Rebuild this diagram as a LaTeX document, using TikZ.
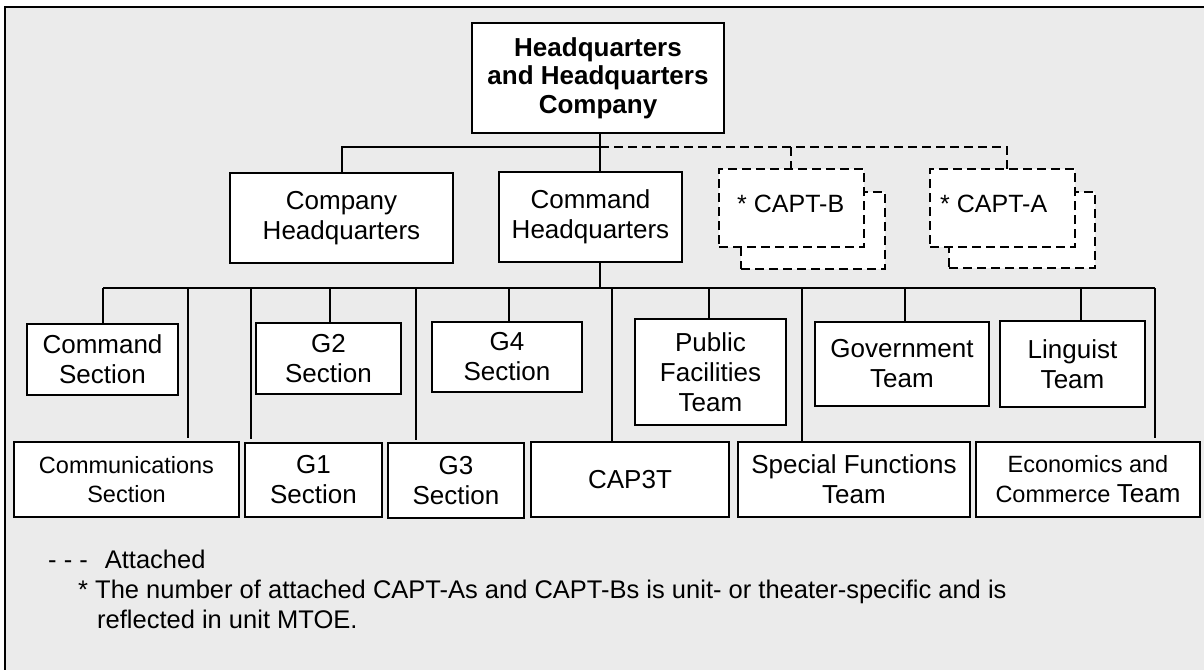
\documentclass[tikz,border=0pt]{standalone}
\usepackage{fontspec}
\setmainfont{Liberation Sans}
\definecolor{bg}{RGB}{235,235,235}
\tikzset{
  box/.style 2 args={draw, line width=2.5pt, fill=white, inner sep=0pt, outer sep=0pt,
    align=center, minimum width=#1, minimum height=#2, font=\fontsize{26}{30}\selectfont},
  captbox/.style 2 args={draw, line width=2.5pt, fill=white, inner sep=0pt, outer sep=0pt,
    dash pattern=on 9pt off 5pt, minimum width=#1, minimum height=#2},
  conn/.style={line width=2pt},
  attconn/.style={line width=2pt, dash pattern=on 9pt off 5pt},
  legend/.style={anchor=base west, inner sep=0pt, font=\fontsize{25.5}{30}\selectfont},
}
\begin{document}
\begin{tikzpicture}[x=1pt,y=-1pt]
\useasboundingbox (0,0) rectangle (1204,669);
\clip (0,0) rectangle (1204,669);
\fill[white] (0,0) rectangle (1204,669);
\draw[line width=2pt, fill=bg] (5,7) rectangle (1230,700);

% top level
\node[box={252}{110}, font=\bfseries\fontsize{26}{28.5}\selectfont] (hq) at (598,78)
  {Headquarters\\and Headquarters\\Company};
\node[box={223}{90}] (coh) at (341.5,218) {Company\\Headquarters};
\node[box={183}{90}] (cmh) at (590.5,217) {Command\\Headquarters};

% attached CAPT boxes
\node[captbox={144}{77}] (captbback) at (813,230.5) {};
\node[captbox={145}{78}] (captb) at (791.5,208) {};
\node[anchor=base west, inner sep=0pt, font=\fontsize{25}{30}\selectfont] (captbtext) at (737,212) {* CAPT-B};
\node[captbox={146}{76}] (captaback) at (1022,230) {};
\node[captbox={145}{78}] (capta) at (1002.5,208) {};
\node[anchor=base west, inner sep=0pt, font=\fontsize{25}{30}\selectfont] (captatext) at (940,212) {* CAPT-A};

% row 1
\node[box={151}{71}] (cmds) at (102.5,359.5) {Command\\Section};
\node[box={145}{71}] (g2) at (328.5,358.5) {G2\\Section};
\node[box={150}{70}] (g4) at (507,357) {G4\\Section};
\node[box={151}{106}] (pft) at (710.5,372) {Public\\Facilities\\Team};
\node[box={174}{84}] (gov) at (902,364) {Government\\Team};
\node[box={145}{86}] (ling) at (1072.5,364) {Linguist\\Team};

% row 2
\node[box={225}{75}, font=\fontsize{23.5}{29}\selectfont] (comm) at (126.5,479.5) {Communications\\Section};
\node[box={137}{74}] (g1) at (313.5,480) {G1\\Section};
\node[box={136}{75}] (g3) at (456,480.5) {G3\\Section};
\node[box={198}{75}] (cap3t) at (630,479.5) {CAP3T};
\node[box={232}{75}] (sft) at (854,479.5) {Special Functions\\Team};
\node[box={224}{75}, font=\fontsize{23.5}{30}\selectfont] (econ) at (1088,479.5)
  {Economics and\\Commerce {\fontsize{26}{30}\selectfont Team}};

% connector coordinates
\coordinate (j1) at (600,147);
\coordinate (j1l) at (342,147);
\coordinate (j1b) at (791,147);
\coordinate (j1a) at (1007,147);
\coordinate (bus) at (600,288);
\coordinate (busl) at (103,288);
\coordinate (busr) at (1155,288);

% top connectors
\draw[conn] (hq.south -| j1) -- (cmh.north -| j1);
\draw[conn] (j1) -- (j1l) -- (j1l |- coh.north);
\draw[attconn] (j1) -- (j1a) -- (j1a |- capta.north);
\draw[attconn] (j1b) -- (j1b |- captb.north);

% bus
\draw[conn] (cmh.south -| bus) -- (bus);
\draw[conn] (busl) -- (busr);
\draw[conn] (busl) -- (busl |- cmds.north);
\coordinate (d1) at (188,288);
\coordinate (d2) at (251,288);
\coordinate (d3) at (330,288);
\coordinate (d4) at (416,288);
\coordinate (d5) at (509,288);
\coordinate (d6) at (612,288);
\coordinate (d7) at (709,288);
\coordinate (d8) at (802,288);
\coordinate (d9) at (905,288);
\coordinate (d10) at (1081,288);
\draw[conn, shorten >=4pt] (d1) -- (d1 |- comm.north);
\draw[conn, shorten >=4pt] (d2) -- (d2 |- g1.north);
\draw[conn] (d3) -- (d3 |- g2.north);
\draw[conn, shorten >=3pt] (d4) -- (d4 |- g3.north);
\draw[conn] (d5) -- (d5 |- g4.north);
\draw[conn] (d6) -- (d6 |- cap3t.north);
\draw[conn] (d7) -- (d7 |- pft.north);
\draw[conn] (d8) -- (d8 |- sft.north);
\draw[conn] (d9) -- (d9 |- gov.north);
\draw[conn] (d10) -- (d10 |- ling.north);
\draw[conn, shorten >=4pt] (busr) -- (busr |- econ.north);

% legend
\node[legend] (att) at (48,568) {- - -\hspace{17pt}Attached};
\node[legend] (note1) at (78,598) {* The number of attached CAPT-As and CAPT-Bs is unit- or theater-specific and is};
\node[legend] (note2) at (97,628) {reflected in unit MTOE.};
\end{tikzpicture}
\end{document}
